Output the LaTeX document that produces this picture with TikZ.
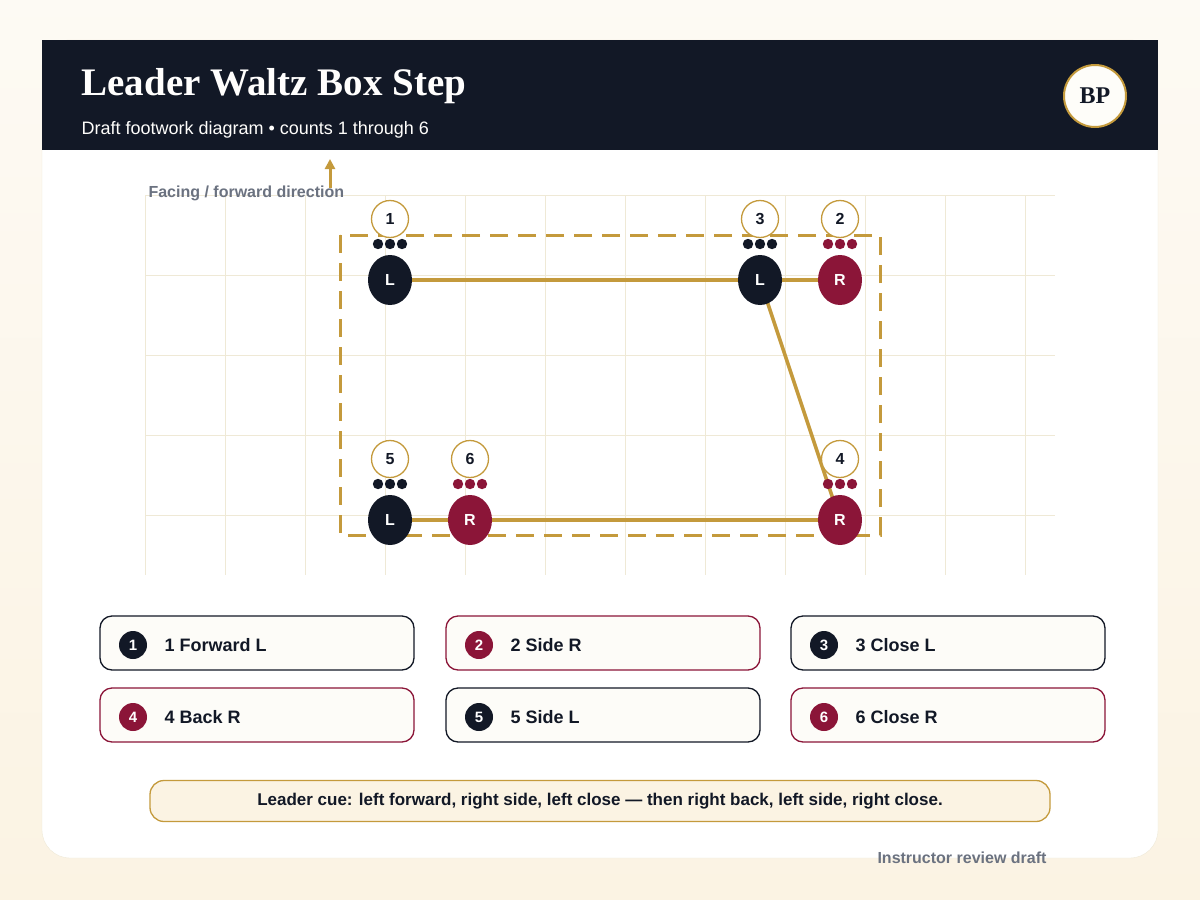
\documentclass[tikz,border=0pt]{standalone}
\usepackage{fontspec}
\setmainfont{Liberation Sans}
\newfontfamily\titlefont{Liberation Serif}
\usetikzlibrary{shapes.geometric,arrows.meta}
\definecolor{ink}{HTML}{121826}
\definecolor{wine}{HTML}{8B1538}
\definecolor{gold}{HTML}{C49A3C}
\definecolor{cream}{HTML}{FBF3E3}
\definecolor{paper}{HTML}{FDFCF8}
\definecolor{gridc}{HTML}{EFE9D6}
\definecolor{muted}{HTML}{6B7280}
\tikzset{
  foot/.style={ellipse, minimum width=44pt, minimum height=50pt, inner sep=0pt, text=white, font=\bfseries\fontsize{16}{16}\selectfont},
  count/.style={circle, draw=gold, line width=1.3pt, fill=white, minimum size=37pt, inner sep=0pt, text=ink, font=\bfseries\fontsize{16}{16}\selectfont},
  path/.style={gold, line width=3.5pt},
  card/.style={rounded corners=12pt, fill=paper, line width=1.3pt, minimum width=314pt, minimum height=54pt},
  badge/.style={circle, minimum size=28pt, inner sep=0pt, text=white, font=\bfseries\fontsize{15}{15}\selectfont}
}
\begin{document}
\begin{tikzpicture}[x=1pt,y=-1pt]
    \useasboundingbox (0,0) rectangle (1200,900);
    \shade[top color=white!60!cream, bottom color=cream] (0,0) rectangle (1200,900);
    % card and header
    \fill[white, draw=gridc, rounded corners=28pt] (42,40) rectangle (1158,858);
    \fill[ink] (42,40) rectangle (1158,150);
    \node[anchor=base west, text=white!92!cream, font=\titlefont\bfseries\fontsize{39}{39}\selectfont] (title) at (78,95) {Leader Waltz Box Step};
    \node[anchor=base west, text=white!85!cream, font=\fontsize{18}{18}\selectfont] (subtitle) at (78,134) {Draft footwork diagram • counts 1 through 6};
    \node[circle, draw=gold, line width=2pt, fill=white!80!cream, minimum size=62pt, text=ink, font=\titlefont\bfseries\fontsize{24}{24}\selectfont] (logo) at (1095,96) {BP};

    % grid
    \foreach \x in {145,225,...,1025} {
        \draw[gridc] (\x,195) -- (\x,575);
    }
    \foreach \y in {195,275,...,515} {
        \draw[gridc] (145,\y) -- (1055,\y);
    }
    \node[anchor=base west, text=muted, font=\bfseries\fontsize{16}{16}\selectfont] (facing) at (145,197) {Facing / forward direction};
    \coordinate (dirtail) at (330,188);
    \coordinate (dirhead) at (330,159);
    \draw[gold, line width=3pt, -{Triangle[length=10pt,width=10pt]}] (dirtail) -- (dirhead);

    % box outline
    \draw[gold, line width=3pt, dash pattern=on 18pt off 10pt] (340,235) rectangle (880,535);

    % feet
    \foreach \n/\x/\y/\c/\s in {1/390/280/ink/L, 2/840/280/wine/R, 3/760/280/ink/L,
                                 4/840/520/wine/R, 5/390/520/ink/L, 6/470/520/wine/R} {
        \node[foot] (f\n) at (\x,\y) {};
    }
    \draw[path] (f1.center) -- (f2.center);
    \draw[path] (f3.center) -- (f4.center);
    \draw[path] (f4.center) -- (f5.center);
    \foreach \n/\x/\y/\c/\s in {1/390/280/ink/L, 2/840/280/wine/R, 3/760/280/ink/L,
                                 4/840/520/wine/R, 5/390/520/ink/L, 6/470/520/wine/R} {
        \node[foot, fill=\c] at (f\n) {\raisebox{-4pt}{\s}};
        \foreach \dx in {-12,0,12} {
            \fill[\c] (\x+\dx,\y-36) circle (5.2pt);
        }
        \node[count] (c\n) at (\x,\y-61) {\n};
    }

    % legend
    \foreach \n/\x/\y/\c/\t in {1/257/643/ink/Forward L, 2/603/643/wine/Side R, 3/948/643/ink/Close L,
                                 4/257/715/wine/Back R, 5/603/715/ink/Side L, 6/948/715/wine/Close R} {
        \node[card, draw=\c] (k\n) at (\x,\y) {};
        \node[badge, fill=\c] (b\n) at (\x-124,\y+2) {\n};
        \node[anchor=west, text=ink, font=\bfseries\fontsize{18}{18}\selectfont] at (\x-96,\y+2) {\n\ \t};
    }

    % cue
    \node[rounded corners=14pt, draw=gold, line width=1.3pt, fill=cream, minimum width=900pt, minimum height=41pt,
          text=ink, font=\bfseries\fontsize{17}{17}\selectfont] (cue) at (600,801)
          {Leader cue: left forward, right side, left close — then right back, left side, right close.};
    \node[anchor=base east, text=muted, font=\bfseries\fontsize{16}{16}\selectfont] (footer) at (1050,863) {Instructor review draft};
\end{tikzpicture}
\end{document}
